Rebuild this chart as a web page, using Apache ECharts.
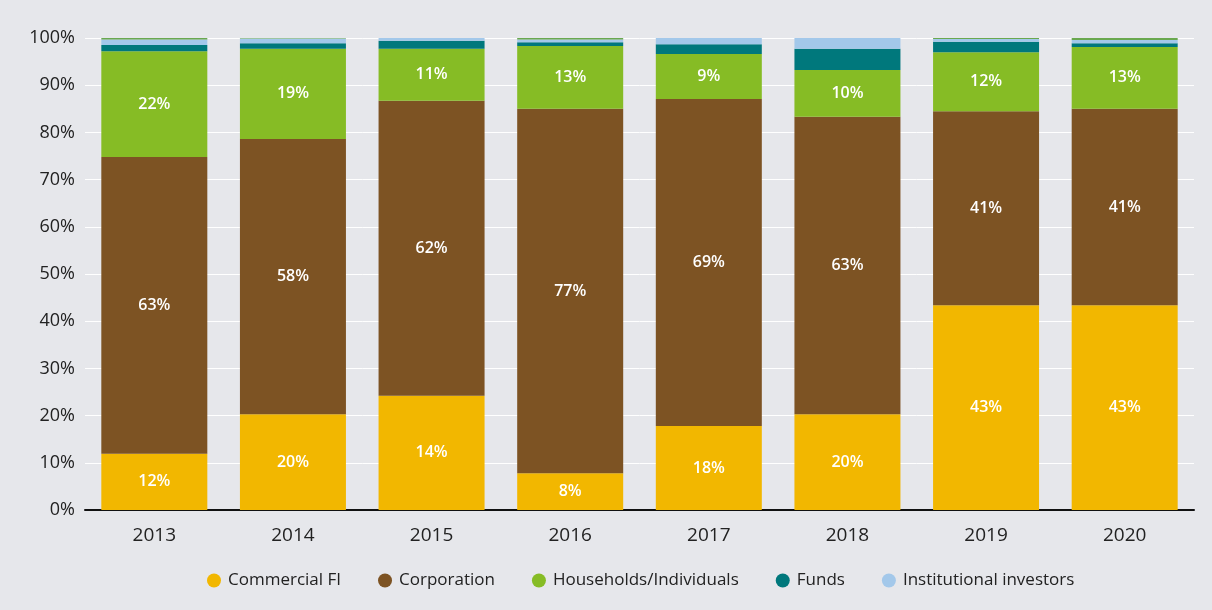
<!DOCTYPE html>
<html><head><meta charset="utf-8">
<script src="https://cdn.jsdelivr.net/npm/echarts@6/dist/echarts.min.js"></script>
<style>html,body{margin:0;padding:0;background:#e6e7eb;}#c{width:1212px;height:610px;}</style>
</head><body><div id="c"></div>
<script>
const years = ['2013','2014','2015','2016','2017','2018','2019','2020'];
const commercialFI = [11.9, 20.3, 24.2, 7.8, 17.8, 20.3, 43.4, 43.4];
const corporation = [62.9, 58.3, 62.5, 77.2, 69.3, 63.0, 41.1, 41.6];
const households = [22.4, 19.1, 11.0, 13.3, 9.5, 9.9, 12.5, 13.1];
const funds = [1.3, 1.2, 1.7, 0.8, 2.1, 4.5, 2.2, 0.8];
const institutional = [1.2, 1.0, 0.6, 0.6, 1.3, 2.3, 0.6, 0.7];
const other = [0.3, 0.1, 0.0, 0.3, 0.0, 0.0, 0.2, 0.4];
const commercialLabels = ['12%','20%','14%','8%','18%','20%','43%','43%'];
const corporationLabels = ['63%','58%','62%','77%','69%','63%','41%','41%'];
const householdLabels = ['22%','19%','11%','13%','9%','10%','12%','13%'];
const yTicks = [0,10,20,30,40,50,60,70,80,90,100];

const font = '"Open Sans", "Noto Sans", sans-serif';
function seg(name, data, color, labels) {
  return {
    name, type: 'bar', stack: 'total', data, barWidth: 106,
    itemStyle: { color },
    label: labels ? {
      show: true, position: 'inside', color: '#fff', fontSize: 16, fontWeight: 600, fontFamily: font,
      formatter: p => labels[p.dataIndex]
    } : { show: false },
    emphasis: { disabled: true }
  };
}
const chart = echarts.init(document.getElementById('c'));
chart.setOption({
  backgroundColor: '#e6e7eb',
  animation: false,
  grid: { left: 85, right: 18, top: 38, bottom: 100 },
  legend: {
    data: ['Commercial FI','Corporation','Households/Individuals','Funds','Institutional investors'],
    bottom: 16, left: 202, icon: 'circle', itemWidth: 14, itemHeight: 14, itemGap: 37,
    textStyle: { fontSize: 17, color: '#222', fontFamily: font, padding: [0, 0, 0, 2] }
  },
  xAxis: {
    type: 'category', data: years,
    axisLine: { lineStyle: { color: '#111', width: 2 } },
    axisTick: { show: false },
    axisLabel: { fontSize: 19, color: '#222', margin: 16, fontFamily: font }
  },
  yAxis: {
    type: 'value', min: yTicks[0], max: yTicks[yTicks.length-1], interval: 10,
    axisLine: { show: false }, axisTick: { show: false },
    splitLine: { lineStyle: { color: '#ffffff', width: 1 } },
    axisLabel: { fontSize: 18, color: '#222', margin: 10, fontFamily: font, formatter: v => v + '%' }
  },
  series: [
    seg('Commercial FI', commercialFI, '#f2b700', commercialLabels),
    seg('Corporation', corporation, '#7d5323', corporationLabels),
    seg('Households/Individuals', households, '#86bc25', householdLabels),
    seg('Funds', funds, '#00787c'),
    seg('Institutional investors', institutional, '#a3c8ea'),
    seg('Other', other, '#6aa84f')
  ]
});
</script></body></html>
